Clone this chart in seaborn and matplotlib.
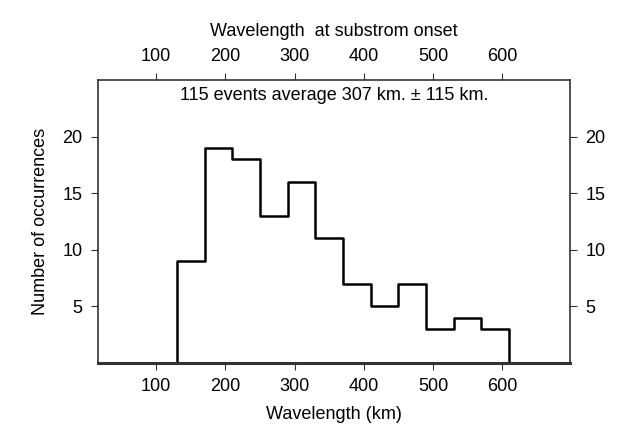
import matplotlib
matplotlib.use("Agg")
import matplotlib.pyplot as plt
import seaborn as sns
import numpy as np

bin_edges = [90, 130, 170, 210, 250, 290, 330, 370, 410, 450, 490, 530, 570, 610, 650]
counts = [0, 9, 19, 18, 13, 16, 11, 7, 5, 7, 3, 4, 3, 0]
xticks = [100, 200, 300, 400, 500, 600]
yticks = [5, 10, 15, 20]

sns.set_style("ticks")
plt.rcParams['font.family'] = ['Liberation Sans', 'DejaVu Sans']
plt.rcParams['text.color'] = 'black'
plt.rcParams['axes.labelcolor'] = 'black'

centers = [(a + b) / 2 for a, b in zip(bin_edges[:-1], bin_edges[1:])]
fig = plt.figure(figsize=(6.37, 4.33), dpi=100)
ax = fig.add_axes([98/637, 1-363/433, (570-98)/637, (363-80)/433])
sns.histplot(x=centers, weights=counts, bins=bin_edges, element="step", fill=False,
             color="black", linewidth=1.8, ax=ax)
ax.set_xlim(16, 698)
ax.set_ylim(0, 25)
ax.set_xticks(xticks)
ax.set_yticks(yticks)
ax.tick_params(labelsize=13, direction="out", length=5, color="#333", labelcolor="black",
               top=True, right=True, labeltop=True, labelright=True, pad=6)
ax.set_xlabel("Wavelength (km)", fontsize=13, labelpad=8)
ax.set_ylabel("Number of occurrences", fontsize=13, labelpad=10)
for s in ax.spines.values():
    s.set_visible(True); s.set_linewidth(1.2); s.set_color("#333")
ax.spines['bottom'].set_linewidth(2.2)
ax.spines['bottom'].set_zorder(10)
top = ax.secondary_xaxis('top')
top.set_xticks([])
top.set_xlabel("Wavelength  at substrom onset", fontsize=13, labelpad=32)
top.spines['top'].set_visible(False)
ax.text(0.5, 0.975, "115 events average 307 km. ± 115 km.", transform=ax.transAxes,
        ha="center", va="top", fontsize=13)
fig.savefig("out.png", dpi=100)
